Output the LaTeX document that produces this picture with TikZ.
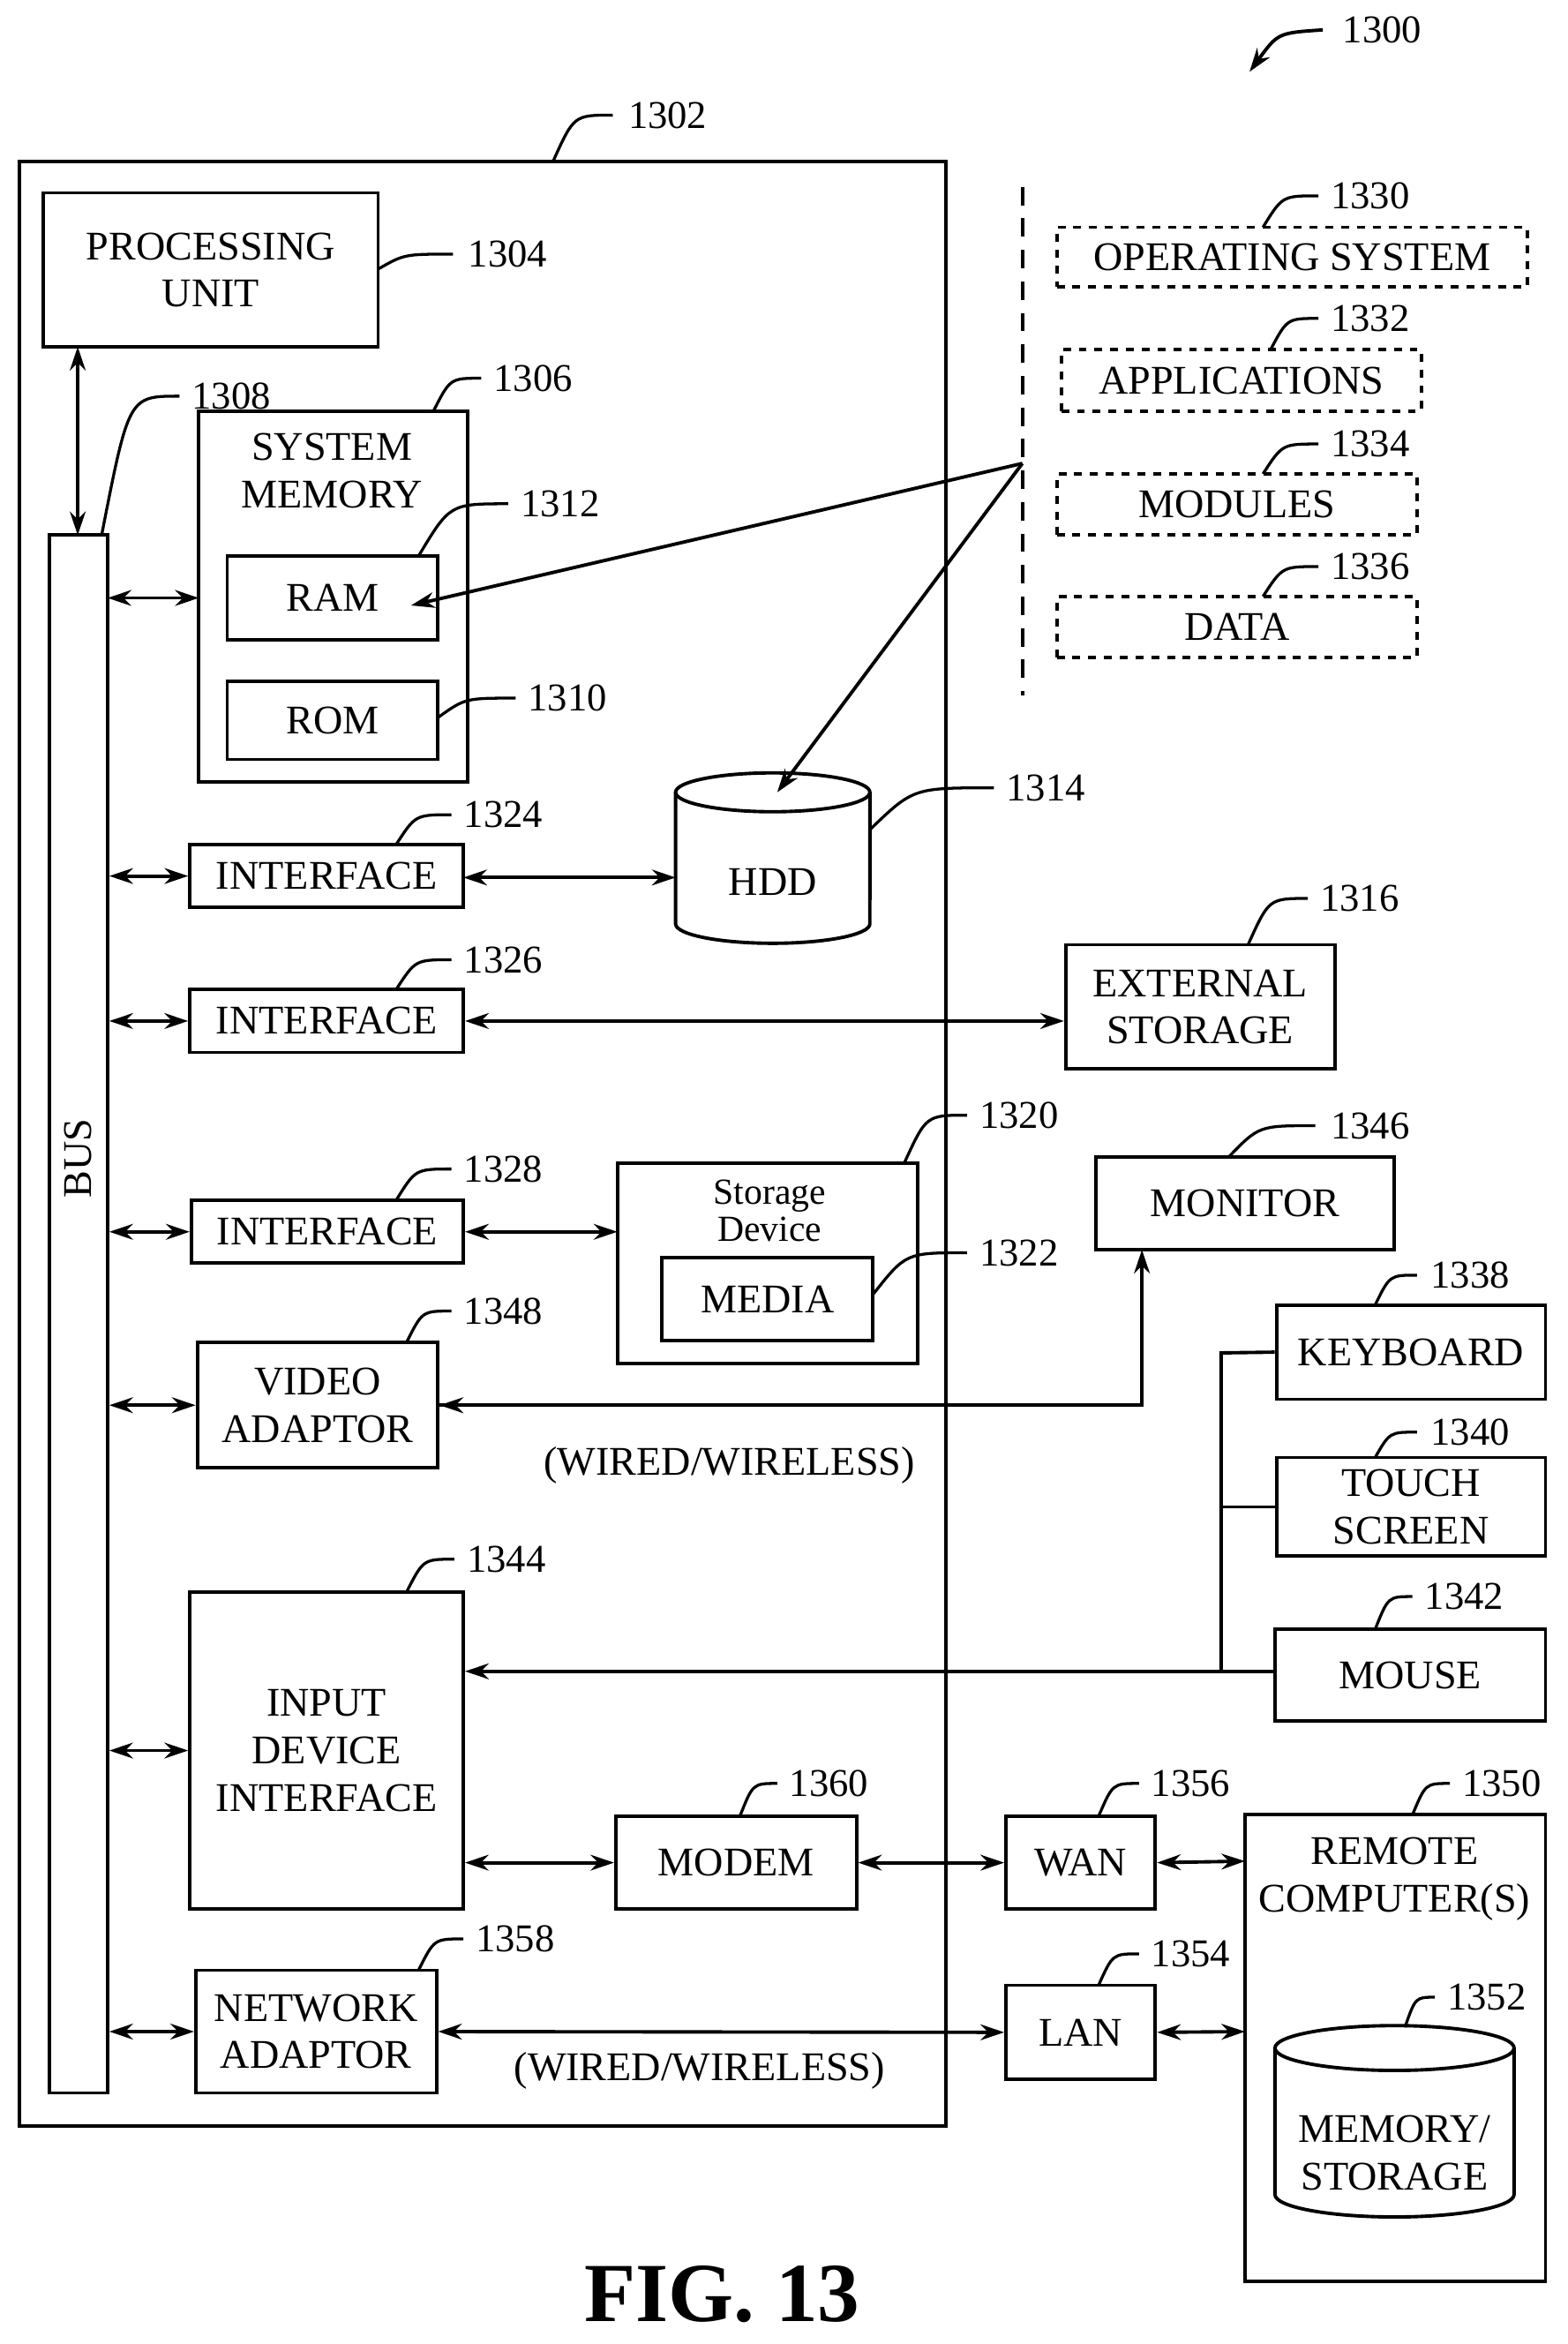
\documentclass[tikz,border=0pt]{standalone}
\usepackage{fontspec}
\setmainfont{Liberation Serif}
\usetikzlibrary{arrows.meta}
\newcommand\bx[7][]{\node[draw,line width=1.3pt,inner sep=0pt,align=center,minimum width={(#5-#3)*0.02cm},minimum height={(#6-#4)*0.02cm},#1] (#2) at ({(#3+#5)/2},{(#4+#6)/2}) {#7};}
\newcommand\lab[6]{\draw[line width=1.1pt] (#1,#2) .. controls ({#1+0.35*(#3-#1)},#4) .. (#3,#4); \node[anchor=west,font=\fontsize{15}{17}\selectfont,inner sep=0pt] at (#5,#4) {#6};}
\begin{document}
\begin{tikzpicture}[x=0.02cm,y=-0.02cm,font=\fontsize{15.5}{18}\selectfont,
  ar/.style={{Stealth[length=9pt,width=6pt]}-{Stealth[length=9pt,width=6pt]},line width=1.3pt},
  sa/.style={-{Stealth[length=9pt,width=6pt]},line width=1.3pt}]
\useasboundingbox (0,0) rectangle (1049,1568);
% outer
\draw[line width=1.3pt] (13,108) rectangle (633,1422);
\bx{pu}{29}{129}{253}{232}{PROCESSING\\UNIT}
\bx{bus}{33}{358}{72}{1400}{}
\node[rotate=90] at (52,775) {BUS};
\draw[ar] (52,232) -- (52,358);
% system memory
\draw[line width=1.3pt] (133,275) rectangle (313,523);
\coordinate (sm) at (133,400);
\node[align=center] at (222,315) {SYSTEM\\MEMORY};
\bx{ram}{152}{372}{293}{428}{RAM}
\bx{rom}{152}{456}{293}{508}{ROM}
\draw[ar] (72,400) -- (sm);
% interfaces
\bx{if1}{127}{565}{310}{607}{INTERFACE}
\bx{if2}{127}{662}{310}{704}{INTERFACE}
\bx{if3}{128}{803}{310}{845}{INTERFACE}
\draw[ar] (bus.east |- if1.west) -- (if1.west);
\draw[ar] (bus.east |- if2.west) -- (if2.west);
\draw[ar] (bus.east |- if3.west) -- (if3.west);
% HDD
\draw[line width=1.3pt] (517,530) ellipse[x radius=1.3cm,y radius=0.26cm];
\draw[line width=1.3pt] (452,530) -- (452,618) arc[start angle=180,end angle=360,x radius=1.3cm,y radius=0.26cm] -- (582,530);
\node (hdd) at (517,590) {HDD};
\coordinate (hddw) at (452,587);
\draw[ar] (310,587) -- (hddw);
\bx{ext}{713}{632}{893}{715}{EXTERNAL\\STORAGE}
\draw[ar] (if2.east) -- (ext.west |- if2.east);
% storage device
\draw[line width=1.3pt] (413,778) rectangle (614,912);
\coordinate (sd) at (413,824);
\node[align=center,font=\fontsize{14}{14}\selectfont] at (515,810) {Storage\\Device};
\bx{media}{443}{841}{584}{897}{MEDIA}
\draw[ar] (if3.east) -- (sd);
% video
\bx{va}{132}{898}{293}{982}{VIDEO\\ADAPTOR}
\draw[ar] (bus.east |- va.west) -- (va.west);
\bx{mon}{733}{774}{933}{836}{MONITOR}
\draw[sa] (va.east) -- (764,940) -- (764,836);
\draw[sa] (764,940) -- (va.east);
\node at (488,980) {(WIRED/WIRELESS)};
% input
\bx{idi}{127}{1065}{310}{1277}{INPUT\\DEVICE\\INTERFACE}
\draw[ar] (bus.east |- idi.west) -- (idi.west);
\bx{kb}{854}{873}{1034}{936}{KEYBOARD}
\bx{ts}{854}{975}{1034}{1041}{TOUCH\\SCREEN}
\bx{ms}{853}{1090}{1034}{1151}{MOUSE}
\draw[line width=1.3pt] (kb.west) -- (817,905) -- (817,1118);
\draw[line width=1.3pt] (ts.west) -- (817,1008);
\draw[sa] (ms.west |- 0,1118) -- (idi.east |- 0,1118);
% network
\bx{modem}{412}{1215}{573}{1277}{MODEM}
\bx{wan}{673}{1215}{773}{1277}{WAN}
\bx{lan}{673}{1328}{773}{1391}{LAN}
\bx{na}{131}{1318}{292}{1400}{NETWORK\\ADAPTOR}
\draw[line width=1.3pt] (833,1214) rectangle (1034,1526);
\node[align=center] at (933,1257) {REMOTE\\COMPUTER(S)};
\coordinate (rc1) at (833,1245);
\coordinate (rc2) at (833,1359);
\draw[ar] (idi.east |- modem.west) -- (modem.west);
\draw[ar] (modem.east) -- (wan.west);
\draw[ar] (wan.east) -- (rc1);
\draw[ar] (bus.east |- na.west) -- (na.west);
\draw[ar] (na.east) -- (lan.west);
\draw[ar] (lan.east) -- (rc2);
\node at (468,1385) {(WIRED/WIRELESS)};
\draw[line width=1.3pt] (933,1370) ellipse[x radius=1.6cm,y radius=0.3cm];
\draw[line width=1.3pt] (853,1370) -- (853,1468) arc[start angle=180,end angle=360,x radius=1.6cm,y radius=0.3cm] -- (1013,1370);
\node[align=center] at (933,1440) {MEMORY/\\STORAGE};
% software
\draw[line width=1.3pt,dash pattern=on 7pt off 5pt] (684,125) -- (684,465);
\coordinate (sw) at (684,310);
\bx[dashed]{os}{707}{152}{1022}{192}{OPERATING SYSTEM}
\bx[dashed]{app}{710}{234}{951}{275}{APPLICATIONS}
\bx[dashed]{mod}{707}{317}{948}{358}{MODULES}
\bx[dashed]{dat}{707}{399}{948}{440}{DATA}
\draw[sa] (sw) -- (275,405);
\draw[sa] (sw) -- (520,530);
% labels
\lab{370}{108}{410}{77}{420}{1302}
\lab{253}{180}{303}{170}{313}{1304}
\lab{290}{275}{322}{253}{330}{1306}
\lab{280}{372}{340}{337}{348}{1312}
\lab{293}{480}{345}{467}{353}{1310}
\lab{582}{555}{665}{527}{673}{1314}
\lab{265}{565}{302}{545}{310}{1324}
\lab{265}{662}{302}{642}{310}{1326}
\lab{835}{632}{875}{601}{883}{1316}
\lab{605}{778}{647}{746}{655}{1320}
\lab{584}{866}{647}{838}{655}{1322}
\lab{265}{803}{302}{782}{310}{1328}
\lab{822}{774}{880}{753}{890}{1346}
\lab{272}{898}{302}{877}{310}{1348}
\lab{920}{873}{948}{853}{957}{1338}
\lab{920}{975}{948}{958}{957}{1340}
\lab{920}{1090}{945}{1068}{953}{1342}
\lab{272}{1065}{304}{1043}{312}{1344}
\lab{495}{1215}{520}{1193}{528}{1360}
\lab{735}{1215}{762}{1193}{770}{1356}
\lab{945}{1214}{970}{1193}{978}{1350}
\lab{280}{1318}{310}{1297}{318}{1358}
\lab{735}{1328}{762}{1307}{770}{1354}
\lab{940}{1356}{960}{1336}{968}{1352}
\lab{845}{152}{882}{131}{890}{1330}
\lab{850}{234}{882}{213}{890}{1332}
\lab{845}{317}{882}{297}{890}{1334}
\lab{845}{399}{882}{379}{890}{1336}
\lab{68}{358}{120}{265}{128}{1308}
\draw[sa] (885,20) .. controls (855,22) .. (836,48);
\node[anchor=west,font=\fontsize{15}{17}\selectfont,inner sep=0pt] at (898,20) {1300};
\node[font=\bfseries\fontsize{32}{34}\selectfont] at (483,1535) {FIG. 13};
\end{tikzpicture}
\end{document}
